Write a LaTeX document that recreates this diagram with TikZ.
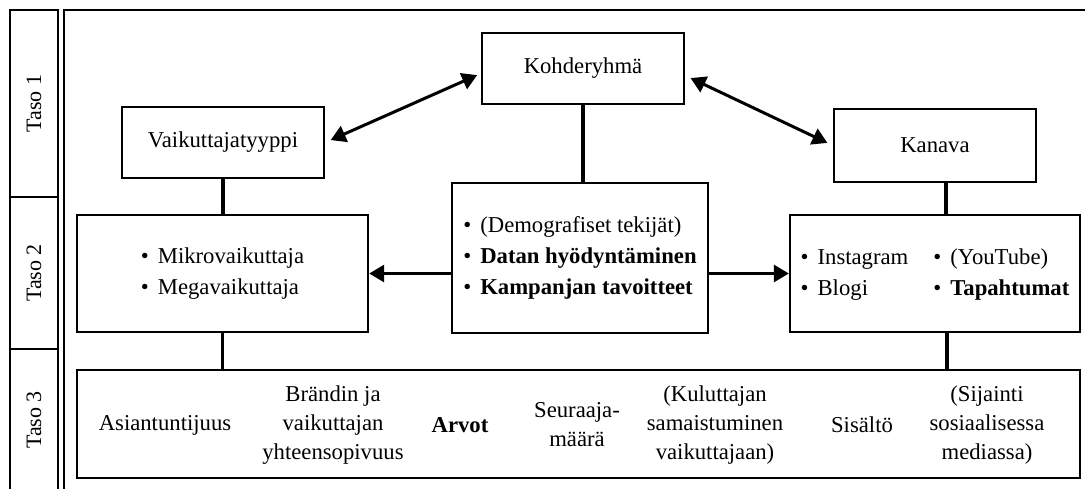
\documentclass[tikz,border=0pt]{standalone}
\usepackage{fontspec}
\setmainfont{Liberation Serif}
\usetikzlibrary{arrows.meta}

\tikzset{
    box/.style = {draw, line width = 2.4pt, inner sep = 0pt, align = center},
    link/.style = {line width = 3.3pt},
    arr/.style = {line width = 3pt},
    txt/.style = {align = center, inner sep = 0pt, font = \fontsize{22.7}{29}\selectfont},
    list/.style = {font = \fontsize{22.7}{31}\selectfont},
    level/.style = {rotate = 90, inner sep = 0pt, font = \fontsize{22}{24}\selectfont}
}
\newcommand{\bul}{\textbullet\hspace{9pt}}

\begin{document}
\begin{tikzpicture}[x = 1pt, y = -1pt, font = \fontsize{22.7}{24}\selectfont,
    > = {Triangle[length = 15pt, width = 17pt]}]
    \useasboundingbox (0,0) rectangle (1085,488);

    % level column
    \draw [line width = 1.6pt] (10,495) -- (10,10) -- (58,10) -- (58,495);
    \draw [line width = 1.2pt] (10,197) -- (58,197) (10,349) -- (58,349);
    \node [level] (taso1) at (34,103.5) {Taso 1};
    \node [level] (taso2) at (34,273) {Taso 2};
    \node [level] (taso3) at (34,420) {Taso 3};

    % frame
    \draw [line width = 1.6pt] (64,495) -- (64,10) -- (1095,10);

    % level 1
    \node [box, minimum width = 202pt, minimum height = 71pt] (kohde) at (583,68.5) {Kohderyhmä};
    \node [box, minimum width = 202pt, minimum height = 71pt] (tyyppi) at (223,142.5) {Vaikuttajatyyppi};
    \node [box, minimum width = 202pt, minimum height = 73pt] (kanava) at (935,145.5) {Kanava};

    % level 2
    \node [box, list, minimum width = 291pt, minimum height = 117pt, align = left] (mikro) at (222.5,273.5)
        {\bul Mikrovaikuttaja\\ \bul Megavaikuttaja};
    \node [box, list, minimum width = 256pt, minimum height = 150pt, align = left] (data) at (580,258)
        {\bul (Demografiset tekijät)\\ \bul\textbf{Datan hyödyntäminen}\\ \bul\textbf{Kampanjan tavoitteet}};
    \node [box, list, minimum width = 290pt, minimum height = 117pt] (kanavat) at (935,273.5)
        {\begin{tabular}{@{}l@{\hspace{25pt}}l@{}}
            \bul Instagram & \bul (YouTube)\\
            \bul Blogi & \bul\textbf{Tapahtumat}
        \end{tabular}};

    % level 3
    \node [box, minimum width = 1003pt, minimum height = 108pt] (tekijat) at (578.5,424) {};
    \node [txt] (t1) at (165,425) {Asiantuntijuus};
    \node [txt] (t2) at (333,425) {Brändin ja\\vaikuttajan\\yhteensopivuus};
    \node [txt] (t3) at (460,425) {\textbf{Arvot}};
    \node [txt] (t4) at (577,425) {Seuraaja-\\määrä};
    \node [txt] (t5) at (715,425) {(Kuluttajan\\samaistuminen\\vaikuttajaan)};
    \node [txt] (t6) at (862,425) {Sisältö};
    \node [txt] (t7) at (987,425) {(Sijainti\\sosiaalisessa\\mediassa)};

    % vertical links
    \draw [link] (kohde.south) -- (kohde.south |- data.north);
    \draw [link] (tyyppi.south) -- (tyyppi.south |- mikro.north);
    \draw [link] ([xshift = 11pt]kanava.south) -- ([xshift = 11pt]kanava.south |- kanavat.north);
    \draw [link] (mikro.south) -- (mikro.south |- tekijat.north);
    \draw [link] ([xshift = 12pt]kanavat.south) -- ([xshift = 12pt]kanavat.south |- tekijat.north);

    % arrows
    \draw [arr, <->, shorten < = 6pt, shorten > = 4pt] (tyyppi.east) -- ([yshift = -5pt]kohde.west);
    \draw [arr, <->, shorten < = 6pt, shorten > = 6pt] ([yshift = -7pt]kohde.east) -- (kanava.west);
    \draw [arr, ->] (data.west |- mikro.east) -- (mikro.east);
    \draw [arr, ->] (data.east |- kanavat.west) -- (kanavat.west);
\end{tikzpicture}
\end{document}
